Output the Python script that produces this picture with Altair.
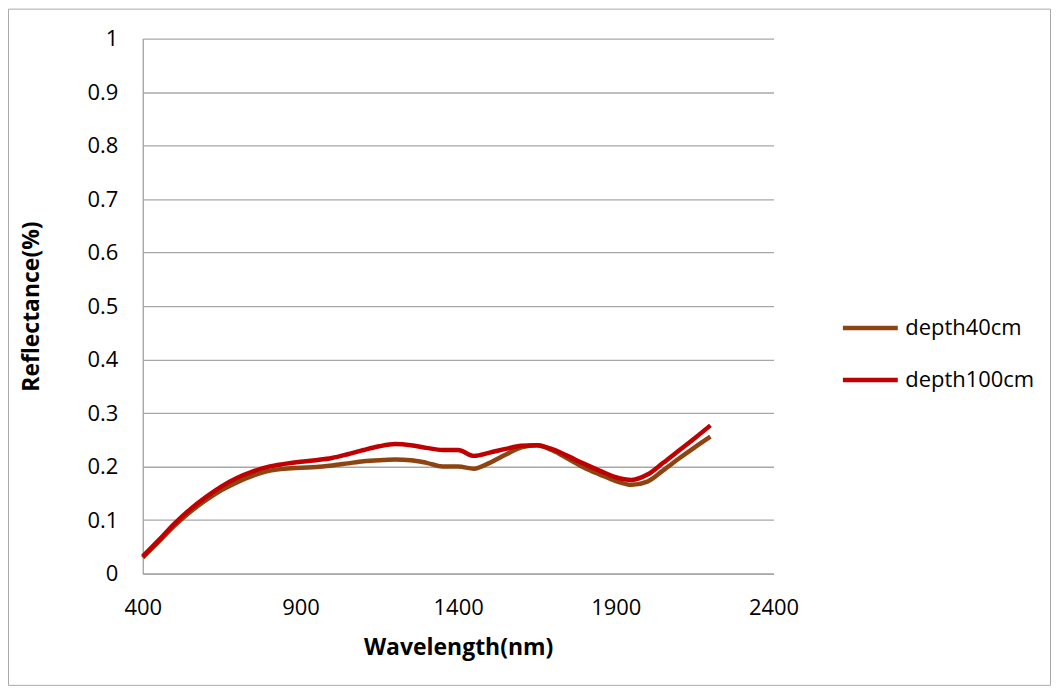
import altair as alt
import pandas as pd

wavelength = [400, 450, 500, 550, 600, 650, 700, 750, 800, 850, 900, 950, 1000,
              1050, 1100, 1150, 1200, 1250, 1300, 1350, 1400, 1450, 1500, 1550,
              1600, 1650, 1700, 1750, 1800, 1850, 1900, 1950, 2000, 2050, 2100,
              2150, 2200]

depth40 = [0.030, 0.059, 0.089, 0.115, 0.137, 0.156, 0.171, 0.183, 0.192, 0.196,
           0.198, 0.199, 0.202, 0.206, 0.210, 0.212, 0.213, 0.212, 0.207, 0.200,
           0.200, 0.196, 0.207, 0.222, 0.236, 0.240, 0.230, 0.214, 0.198, 0.185,
           0.173, 0.166, 0.172, 0.193, 0.215, 0.236, 0.256]

depth100 = [0.032, 0.062, 0.093, 0.120, 0.143, 0.163, 0.179, 0.191, 0.200, 0.205,
            0.209, 0.212, 0.216, 0.223, 0.231, 0.238, 0.242, 0.240, 0.235, 0.231,
            0.231, 0.220, 0.226, 0.233, 0.239, 0.240, 0.232, 0.219, 0.205, 0.192,
            0.180, 0.175, 0.185, 0.207, 0.230, 0.253, 0.277]

series_names = ["depth40cm", "depth100cm"]
series_colors = ["#8E4410", "#C00000"]
x_ticks = [400, 900, 1400, 1900, 2400]
y_ticks = [0, 0.1, 0.2, 0.3, 0.4, 0.5, 0.6, 0.7, 0.8, 0.9, 1]

rows = []
for i, w in enumerate(wavelength):
    rows.append({"wl": w, "val": depth40[i], "series": series_names[0], "ord": 0})
    rows.append({"wl": w, "val": depth100[i], "series": series_names[1], "ord": 1})
df = pd.DataFrame(rows)

FONT = "Open Sans"
W, H = 632, 536

lines = alt.Chart(df).mark_line(strokeWidth=4.5, interpolate="monotone").encode(
    x=alt.X("wl:Q", scale=alt.Scale(domain=[400, 2400], nice=False),
            axis=alt.Axis(values=x_ticks, format="d", title="Wavelength(nm)",
                          grid=False, ticks=False, labelPadding=24,
                          labelFlush=False, labelOverlap=False,
                          titleY=74, titleBaseline="middle",
                          domainColor="#a0a0a0", domainWidth=1.3)),
    y=alt.Y("val:Q", scale=alt.Scale(domain=[0, 1], nice=False),
            axis=alt.Axis(values=y_ticks, format="~g", title="Reflectance(%)",
                          grid=True, ticks=False, labelPadding=25,
                          labelFlush=False, labelOverlap=False,
                          gridColor="#a8a8a8", gridWidth=1.3,
                          domainColor="#a0a0a0", domainWidth=1.3,
                          titleX=-111, titleBaseline="middle")),
    color=alt.Color("series:N",
                    scale=alt.Scale(domain=series_names, range=series_colors),
                    legend=alt.Legend(title=None, orient="none", legendX=699,
                                      legendY=281, symbolType="stroke",
                                      symbolSize=3025, symbolStrokeWidth=4.5,
                                      clipHeight=18, rowPadding=30,
                                      labelFontSize=22, labelFont=FONT,
                                      labelColor="#000000", labelOffset=5)),
    order="ord:Q",
)

frame = alt.Chart(pd.DataFrame({"a": [0]})).mark_rect(
    fill=None, stroke="#a9a9a9", strokeWidth=1
).encode(x=alt.value(-134.5), x2=alt.value(909.5), y=alt.value(-29.5), y2=alt.value(648))

chart = alt.layer(frame, lines).properties(
    width=W, height=H,
    autosize=alt.AutoSizeParams(type="none"),
    padding={"left": 135, "top": 30, "right": 278, "bottom": 114},
).configure_view(stroke=None).configure_axis(
    labelFont=FONT, labelFontSize=22, labelColor="#000000",
    titleFont=FONT, titleFontSize=23, titleFontWeight="bold", titleColor="#000000",
)

chart.save("out.html", embed_options={"renderer": "svg", "actions": False})
